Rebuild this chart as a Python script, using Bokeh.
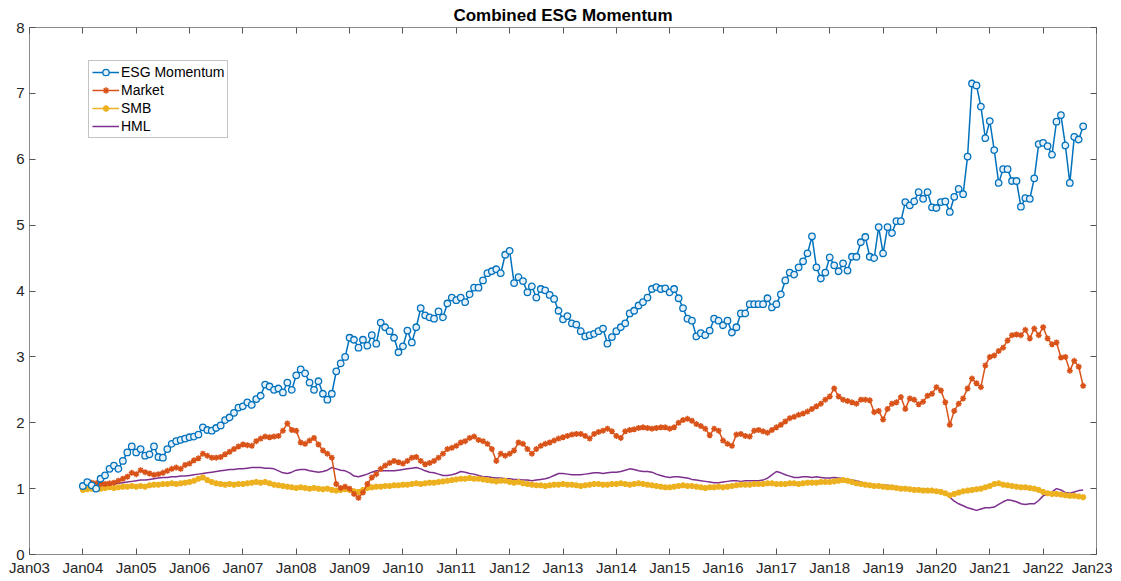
from bokeh.plotting import figure
from bokeh.models import (LinearAxis, FixedTicker, Legend, LegendItem, Range1d,
                          CustomLabelingPolicy)
from bokeh.embed import file_html
from bokeh.resources import INLINE

# ---------------- data (monthly, starting Jan 2004) ----------------
start_year = 2004
esg = [
    1.04, 1.10, 1.05, 1.00, 1.15, 1.20, 1.30, 1.35, 1.30, 1.42, 1.55, 1.64,
    1.55, 1.60, 1.50, 1.52, 1.64, 1.48, 1.47, 1.60, 1.68, 1.72, 1.74, 1.76,
    1.78, 1.79, 1.82, 1.93, 1.89, 1.88, 1.92, 1.96, 2.04, 2.08, 2.15, 2.23,
    2.25, 2.31, 2.27, 2.36, 2.41, 2.58, 2.55, 2.50, 2.52, 2.46, 2.61, 2.50,
    2.72, 2.81, 2.75, 2.61, 2.50, 2.63, 2.44, 2.35, 2.44, 2.78, 2.90, 3.00,
    3.29, 3.26, 3.14, 3.26, 3.17, 3.33, 3.20, 3.52, 3.45, 3.39, 3.29, 3.07,
    3.16, 3.40, 3.22, 3.45, 3.74, 3.63, 3.60, 3.58, 3.69, 3.60, 3.81, 3.90,
    3.86, 3.90, 3.83, 3.95, 4.05, 4.05, 4.16, 4.27, 4.30, 4.33, 4.27, 4.55,
    4.61, 4.12, 4.21, 4.15, 3.98, 4.07, 3.90, 4.03, 4.01, 3.94, 3.88, 3.70,
    3.57, 3.62, 3.51, 3.49, 3.39, 3.31, 3.33, 3.35, 3.39, 3.43, 3.20, 3.30,
    3.39, 3.45, 3.51, 3.66, 3.70, 3.78, 3.83, 3.90, 4.03, 4.06, 4.03, 4.04,
    3.98, 4.03, 3.89, 3.74, 3.58, 3.55, 3.31, 3.36, 3.33, 3.40, 3.58, 3.55,
    3.48, 3.55, 3.37, 3.45, 3.66, 3.66, 3.80, 3.80, 3.80, 3.80, 3.89, 3.75,
    3.80, 3.95, 4.16, 4.28, 4.25, 4.36, 4.45, 4.57, 4.83, 4.36, 4.19, 4.28,
    4.51, 4.39, 4.30, 4.42, 4.31, 4.52, 4.52, 4.74, 4.82, 4.52, 4.50, 4.97,
    4.57, 4.97, 4.88, 5.06, 5.06, 5.35, 5.30, 5.36, 5.50, 5.40, 5.50, 5.27,
    5.26, 5.35, 5.36, 5.20, 5.43, 5.55, 5.47, 6.04, 7.15, 7.12, 6.80, 6.32,
    6.58, 6.14, 5.64, 5.85, 5.85, 5.67, 5.67, 5.28, 5.41, 5.40, 5.71, 6.23,
    6.25, 6.20, 6.07, 6.57, 6.67, 6.21, 5.64, 6.34, 6.30, 6.50,
]
market = [
    1.04, 1.10, 1.09, 1.08, 1.07, 1.07, 1.08, 1.09, 1.12, 1.15, 1.18, 1.24,
    1.22, 1.28, 1.25, 1.23, 1.21, 1.22, 1.24, 1.27, 1.30, 1.32, 1.30, 1.36,
    1.38, 1.43, 1.46, 1.53, 1.50, 1.47, 1.47, 1.48, 1.52, 1.56, 1.60, 1.64,
    1.67, 1.66, 1.65, 1.72, 1.76, 1.79, 1.78, 1.79, 1.80, 1.88, 1.99, 1.89,
    1.88, 1.70, 1.68, 1.73, 1.77, 1.67, 1.58, 1.53, 1.47, 1.07, 1.01, 1.03,
    1.00, 0.92, 0.86, 0.94, 1.07, 1.17, 1.22, 1.30, 1.35, 1.39, 1.42, 1.40,
    1.38, 1.42, 1.47, 1.48, 1.42, 1.37, 1.39, 1.42, 1.47, 1.53, 1.60, 1.62,
    1.65, 1.70, 1.72, 1.77, 1.79, 1.74, 1.72, 1.68, 1.60, 1.42, 1.53, 1.50,
    1.53, 1.58, 1.70, 1.68, 1.60, 1.53, 1.60, 1.65, 1.68, 1.70, 1.73, 1.76,
    1.78, 1.80, 1.82, 1.83, 1.83, 1.80, 1.76, 1.83, 1.86, 1.88, 1.91, 1.87,
    1.80, 1.77, 1.87, 1.89, 1.90, 1.92, 1.93, 1.92, 1.91, 1.92, 1.93, 1.93,
    1.91, 1.93, 2.00, 2.04, 2.06, 2.03, 1.98, 1.95, 1.91, 1.81, 1.91, 1.88,
    1.73, 1.68, 1.65, 1.82, 1.83, 1.80, 1.79, 1.88, 1.89, 1.87, 1.85, 1.89,
    1.93, 1.97, 2.02, 2.07, 2.09, 2.12, 2.14, 2.17, 2.21, 2.25, 2.29, 2.35,
    2.40, 2.52, 2.40, 2.35, 2.33, 2.31, 2.29, 2.35, 2.35, 2.34, 2.16, 2.18,
    2.05, 2.21, 2.29, 2.31, 2.39, 2.21, 2.37, 2.35, 2.28, 2.32, 2.41, 2.44,
    2.54, 2.49, 2.31, 1.97, 2.18, 2.29, 2.37, 2.52, 2.67, 2.60, 2.54, 2.87,
    3.00, 3.02, 3.09, 3.14, 3.25, 3.33, 3.34, 3.33, 3.41, 3.28, 3.43, 3.33,
    3.45, 3.28, 3.19, 3.22, 2.99, 3.00, 2.79, 2.94, 2.85, 2.56,
]
smb = [
    0.98, 0.99, 1.00, 1.01, 1.00, 1.01, 1.02, 1.01, 1.02, 1.03, 1.03, 1.04,
    1.03, 1.04, 1.03, 1.05, 1.06, 1.06, 1.07, 1.07, 1.08, 1.07, 1.08, 1.09,
    1.10, 1.12, 1.15, 1.17, 1.13, 1.10, 1.08, 1.07, 1.06, 1.07, 1.06, 1.07,
    1.07, 1.08, 1.09, 1.10, 1.09, 1.10, 1.08, 1.06, 1.05, 1.04, 1.03, 1.02,
    1.01, 1.02, 1.01, 1.00, 1.01, 1.00, 0.99, 1.00, 0.98, 0.97, 0.98, 0.99,
    0.98, 0.96, 0.95, 0.98, 1.01, 1.02, 1.03, 1.03, 1.04, 1.04, 1.05, 1.05,
    1.06, 1.06, 1.07, 1.08, 1.07, 1.08, 1.09, 1.09, 1.10, 1.11, 1.12, 1.13,
    1.14, 1.15, 1.15, 1.16, 1.15, 1.15, 1.14, 1.13, 1.12, 1.11, 1.12, 1.12,
    1.10, 1.09, 1.10, 1.08, 1.07, 1.06, 1.05, 1.05, 1.04, 1.05, 1.06, 1.06,
    1.07, 1.06, 1.06, 1.05, 1.04, 1.05, 1.06, 1.07, 1.07, 1.06, 1.06, 1.07,
    1.07, 1.08, 1.07, 1.06, 1.07, 1.08, 1.07, 1.06, 1.05, 1.04, 1.03, 1.02,
    1.02, 1.03, 1.04, 1.05, 1.04, 1.04, 1.03, 1.02, 1.01, 1.02, 1.02, 1.03,
    1.02, 1.03, 1.04, 1.05, 1.06, 1.06, 1.06, 1.07, 1.07, 1.07, 1.08, 1.08,
    1.07, 1.07, 1.07, 1.08, 1.08, 1.07, 1.08, 1.09, 1.09, 1.09, 1.10, 1.10,
    1.10, 1.11, 1.12, 1.13, 1.12, 1.10, 1.08, 1.07, 1.06, 1.05, 1.04, 1.04,
    1.03, 1.02, 1.02, 1.01, 1.00, 1.00, 0.99, 0.98, 0.98, 0.97, 0.97, 0.97,
    0.96, 0.95, 0.93, 0.90, 0.92, 0.94, 0.96, 0.97, 0.98, 0.99, 1.00, 1.02,
    1.04, 1.07, 1.08, 1.06, 1.05, 1.04, 1.03, 1.02, 1.02, 1.01, 1.00, 0.98,
    0.95, 0.93, 0.92, 0.92, 0.91, 0.90, 0.89, 0.89, 0.88, 0.87,
]
hml = [
    1.01, 1.02, 1.03, 1.03, 1.04, 1.05, 1.06, 1.07, 1.08, 1.09, 1.10, 1.11,
    1.12, 1.13, 1.13, 1.14, 1.15, 1.16, 1.17, 1.17, 1.18, 1.18, 1.19, 1.19,
    1.20, 1.21, 1.22, 1.23, 1.24, 1.25, 1.26, 1.27, 1.28, 1.29, 1.29, 1.30,
    1.30, 1.31, 1.32, 1.32, 1.32, 1.31, 1.31, 1.30, 1.27, 1.24, 1.23, 1.25,
    1.28, 1.29, 1.29, 1.27, 1.26, 1.25, 1.26, 1.28, 1.32, 1.30, 1.28, 1.27,
    1.24, 1.19, 1.18, 1.20, 1.22, 1.25, 1.27, 1.27, 1.27, 1.27, 1.27, 1.28,
    1.29, 1.30, 1.31, 1.32, 1.30, 1.27, 1.25, 1.24, 1.22, 1.20, 1.20, 1.21,
    1.23, 1.26, 1.25, 1.23, 1.22, 1.20, 1.18, 1.18, 1.17, 1.16, 1.16, 1.15,
    1.15, 1.14, 1.14, 1.13, 1.13, 1.12, 1.13, 1.14, 1.15, 1.17, 1.20, 1.23,
    1.23, 1.22, 1.21, 1.21, 1.21, 1.22, 1.23, 1.24, 1.24, 1.23, 1.24, 1.25,
    1.25, 1.26, 1.28, 1.30, 1.29, 1.27, 1.26, 1.26, 1.25, 1.22, 1.20, 1.18,
    1.17, 1.18, 1.18, 1.17, 1.16, 1.14, 1.13, 1.12, 1.11, 1.10, 1.09, 1.09,
    1.10, 1.11, 1.12, 1.12, 1.11, 1.12, 1.12, 1.12, 1.12, 1.13, 1.16, 1.21,
    1.26, 1.24, 1.21, 1.19, 1.17, 1.17, 1.18, 1.18, 1.17, 1.18, 1.17, 1.16,
    1.16, 1.17, 1.16, 1.15, 1.14, 1.13, 1.12, 1.10, 1.08, 1.07, 1.06, 1.06,
    1.05, 1.05, 1.04, 1.03, 1.01, 1.00, 1.00, 1.00, 1.00, 1.00, 0.99, 0.98,
    0.98, 0.95, 0.92, 0.87, 0.81, 0.77, 0.74, 0.71, 0.69, 0.67, 0.69, 0.71,
    0.71, 0.72, 0.76, 0.80, 0.83, 0.82, 0.80, 0.77, 0.76, 0.77, 0.77, 0.82,
    0.89, 0.92, 0.95, 1.00, 0.98, 0.94, 0.93, 0.95, 0.97, 0.98,
]
series_names = ["ESG Momentum", "Market", "SMB", "HML"]
tick_years = [2003, 2004, 2005, 2006, 2007, 2008, 2009, 2010, 2011, 2012, 2013,
              2014, 2015, 2016, 2017, 2018, 2019, 2020, 2021, 2022, 2023]
tick_labels = ["Jan03", "Jan04", "Jan05", "Jan06", "Jan07", "Jan08", "Jan09",
               "Jan10", "Jan11", "Jan12", "Jan13", "Jan14", "Jan15", "Jan16",
               "Jan17", "Jan18", "Jan19", "Jan20", "Jan21", "Jan22", "Jan23"]
y_ticks = [0, 1, 2, 3, 4, 5, 6, 7, 8]


def months(vals):
    return [start_year + i / 12.0 for i in range(len(vals))]


FONT = "Liberation Sans"
BLUE, ORANGE, YELLOW, PURPLE = "#0072BD", "#D95319", "#EDB120", "#7E2F8E"
AX = "#555555"

p = figure(width=1112, height=578,
           x_range=Range1d(tick_years[0], tick_years[-1]),
           y_range=Range1d(y_ticks[0], y_ticks[-1]),
           output_backend="svg", toolbar_location=None,
           min_border_left=29, min_border_right=16,
           min_border_top=27, min_border_bottom=19)

p.title.text = "Combined ESG Momentum"
p.title.align = "center"
p.title.text_font = FONT
p.title.text_font_size = "17px"
p.title.text_font_style = "bold"
p.title.text_color = "#000000"
p.title.standoff = 5

p.xgrid.visible = False
p.ygrid.visible = False
p.outline_line_color = "#8a8a8a"
p.outline_line_width = 1
p.background_fill_color = "white"
p.border_fill_color = "white"

for ax in (p.xaxis[0], p.yaxis[0]):
    ax.axis_line_color = None
    ax.major_tick_in = 6
    ax.major_tick_out = 0
    ax.minor_tick_line_color = None
    ax.major_tick_line_color = AX
    ax.major_label_text_font = FONT
    ax.major_label_text_font_size = "15px"
    ax.major_label_text_color = "#262626"

p.xaxis[0].ticker = FixedTicker(ticks=tick_years)
p.xaxis[0].major_label_overrides = {y: l for y, l in zip(tick_years, tick_labels)}
p.xaxis[0].major_label_standoff = 4
p.yaxis[0].ticker = FixedTicker(ticks=y_ticks)
p.yaxis[0].major_label_standoff = 5

# mirrored ticks on top and right (MATLAB box style), no labels drawn
no_labels = CustomLabelingPolicy(code="""
try {
  const n = indices.size;
  for (let i = 0; i < n; i++) { indices.unset(i); }
} catch (e) {}
return indices;
""")
top = LinearAxis(ticker=FixedTicker(ticks=tick_years))
right = LinearAxis(ticker=FixedTicker(ticks=y_ticks))
for ax in (top, right):
    ax.axis_line_color = None
    ax.major_tick_in = 6
    ax.major_tick_out = 0
    ax.minor_tick_line_color = None
    ax.major_tick_line_color = AX
    ax.major_label_text_font_size = "0px"
    ax.major_label_standoff = 0
    ax.major_label_policy = no_labels
p.add_layout(top, "above")
p.add_layout(right, "right")

# ---------------- series ----------------
hml_line = p.line(months(hml), hml, line_color=PURPLE, line_width=1.5)

smb_line = p.line(months(smb), smb, line_color=YELLOW, line_width=1.5)
smb_pts = p.scatter(months(smb), smb, marker="asterisk", size=6,
                    line_color=YELLOW, line_width=2)

mkt_line = p.line(months(market), market, line_color=ORANGE, line_width=1.5)
mkt_pts = p.scatter(months(market), market, marker="asterisk", size=6,
                    line_color=ORANGE, line_width=1.5)

esg_line = p.line(months(esg), esg, line_color=BLUE, line_width=1.5)
esg_pts = p.scatter(months(esg), esg, marker="circle", size=6.5,
                    line_color=BLUE, line_width=1.3,
                    fill_color="#e6f0f8", fill_alpha=1.0)

legend = Legend(items=[
    LegendItem(label=series_names[0], renderers=[esg_line, esg_pts]),
    LegendItem(label=series_names[1], renderers=[mkt_line, mkt_pts]),
    LegendItem(label=series_names[2], renderers=[smb_line, smb_pts]),
    LegendItem(label=series_names[3], renderers=[hml_line]),
], location=(59, 416))
legend.label_text_font = FONT
legend.label_text_font_size = "14px"
legend.label_text_color = "#000000"
legend.label_standoff = 2
legend.label_height = 16
legend.glyph_height = 16
legend.glyph_width = 27
legend.spacing = 2
legend.padding = 3
legend.margin = 0
legend.border_line_color = "#8a8a8a"
legend.border_line_width = 1
legend.background_fill_color = "white"
legend.background_fill_alpha = 1.0
p.add_layout(legend, "center")

open("out.html", "w").write(file_html(p, INLINE))
